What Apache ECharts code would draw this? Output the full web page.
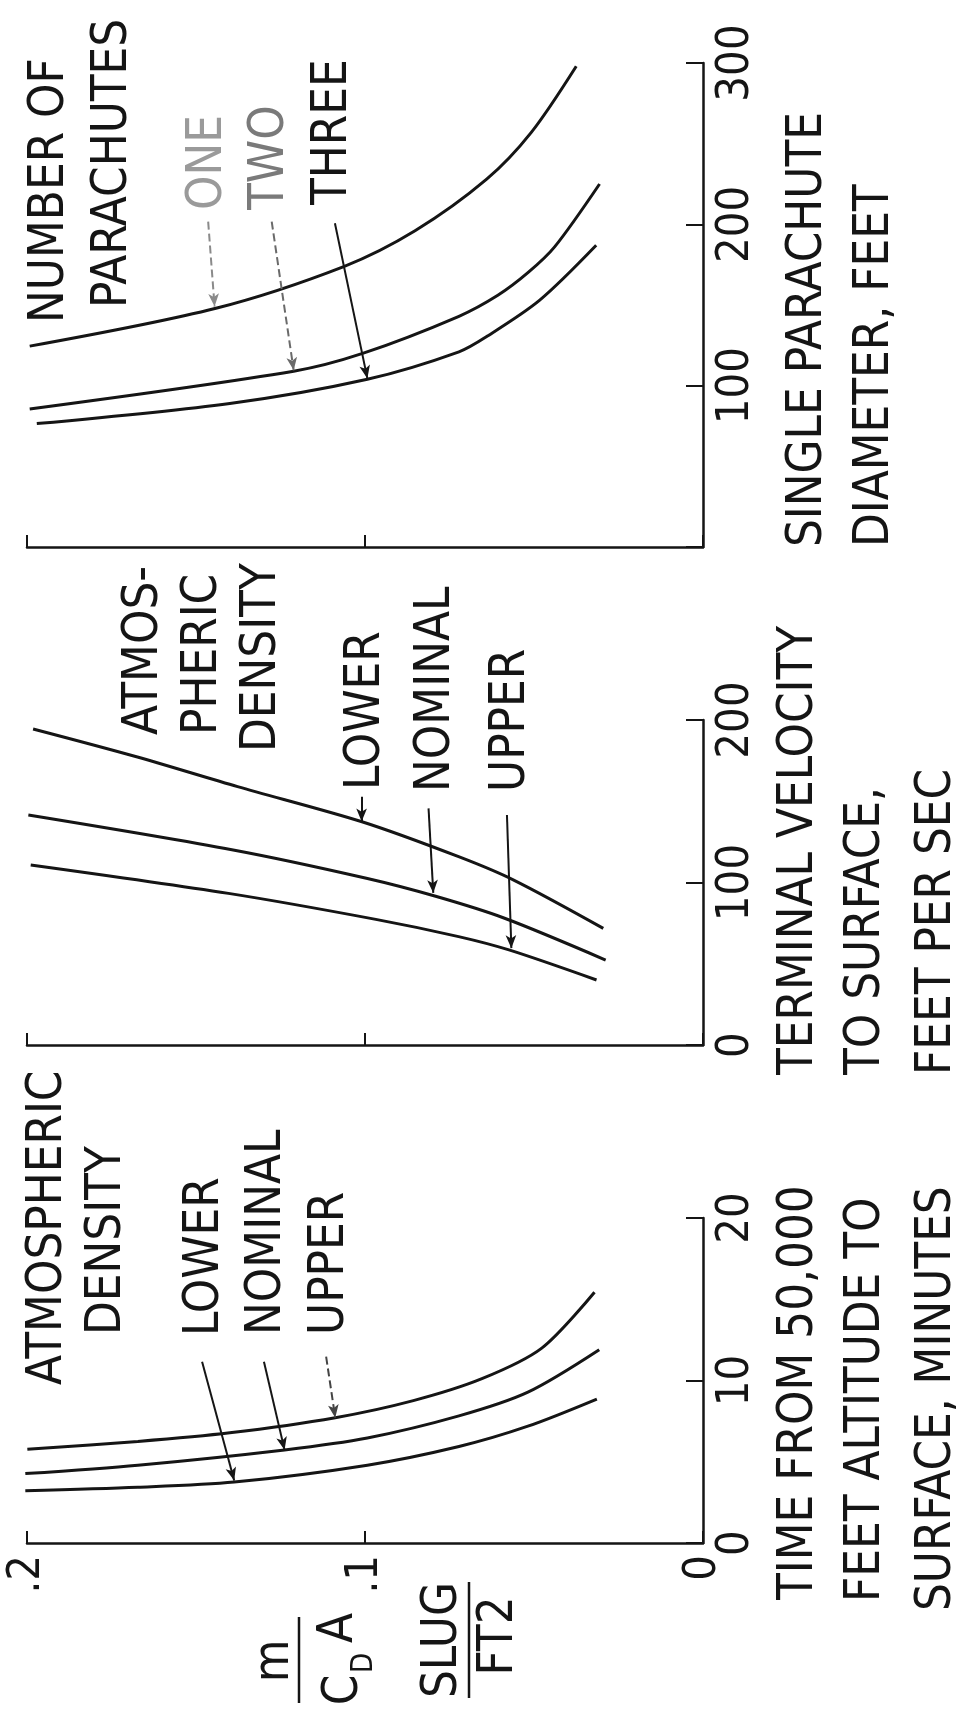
<!DOCTYPE html>
<html><head><meta charset="utf-8">
<script src="https://cdn.jsdelivr.net/npm/echarts@6/dist/echarts.min.js"></script>
<style>html,body{margin:0;padding:0;background:#fff}#c{width:975px;height:1727px}</style>
</head><body><div id="c"></div>
<script>
// ---- data (x = m/(CD A), slug/ft^2) ----
const mTicks = ['0', '.1', '.2'];
const timeTicks = ['0', '10', '20'];
const velTicks = ['0', '100', '200'];
const diaTicks = ['', '100', '200', '300'];

// Panel 1: time from 50,000 ft to surface, minutes
const timeLower   = [[0.2005,3.22],[0.1672,3.43],[0.1387,3.75],[0.0993,4.79],[0.0722,5.94],[0.0518,7.19],[0.0314,8.86]];
const timeNominal = [[0.2005,4.27],[0.1672,4.79],[0.1238,5.73],[0.0993,6.46],[0.0722,7.82],[0.0518,9.28],[0.0307,11.89]];
const timeUpper   = [[0.1999,5.77],[0.1672,6.25],[0.1400,6.78],[0.1088,7.71],[0.0857,8.76],[0.0654,10.11],[0.0477,11.99],[0.0321,15.43]];

// Panel 2: terminal velocity to surface, ft/s
const velLower   = [[0.1982,194.5],[0.1676,177.4],[0.1377,159],[0.1009,137.4],[0.0723,115.9],[0.0560,101.5],[0.0295,71.8]];
const velNominal = [[0.1996,141.5],[0.1390,120],[0.0996,102.6],[0.0791,91.5],[0.0587,78],[0.0288,52.3]];
const velUpper   = [[0.1989,110.8],[0.1404,93.3],[0.0968,77.3],[0.0723,66.7],[0.0574,58.5],[0.0315,40]];

// Panel 3: single parachute diameter, ft
const diaOne   = [[0.1992,124.5],[0.1441,148],[0.1061,174],[0.0852,196],[0.0640,228],[0.0508,257],[0.0375,298]];
const diaTwo   = [[0.1992,85.6],[0.1211,109],[0.1007,120],[0.0722,143],[0.0607,156],[0.0518,170],[0.0439,186],[0.0306,225]];
const diaThree = [[0.1971,76.5],[0.1400,89],[0.0993,104],[0.0722,121],[0.0636,131],[0.0483,153],[0.0316,187]];

// annotation arrows (data coords: from -> to)
const timeArrows = [[[0.1482,11.16],[0.1387,3.85]],[[0.1299,11.16],[0.1238,5.73]],[[0.1115,11.47],[0.1088,7.71]]];
const velArrows  = [[[0.1010,152.8],[0.1010,137.6]],[[0.0812,145.6],[0.0798,93.6]],[[0.0580,141.5],[0.0567,59.6]]];
const diaArrows  = [[[0.1464,201.7],[0.1445,149]],[[0.1276,201.7],[0.1211,109.5]],[[0.1089,200.7],[0.0993,104.5]]];

// ---- font ----
function hasFont(name){
  const c = document.createElement('canvas').getContext('2d');
  const t = 'SINGLE PARACHUTE 0123';
  c.font = '52px monospace'; const w1 = c.measureText(t).width;
  c.font = '52px "' + name + '", monospace'; const w2 = c.measureText(t).width;
  return Math.abs(w1 - w2) > 1;
}
let FONT = '"Liberation Sans Narrow"';
if (!hasFont('Liberation Sans Narrow')) FONT = hasFont('DejaVu Sans Condensed') ? '"DejaVu Sans Condensed"' : '"Liberation Sans"';
const ctx = document.createElement('canvas').getContext('2d');
const TFS = 49;                       // text size (cap height ~36px)
ctx.font = TFS + 'px ' + FONT;
const KX = Math.min(1, 435 / ctx.measureText('SINGLE PARACHUTE').width);  // horizontal compression
ctx.font = '100px ' + FONT;
const FS = Math.round(Math.min(50, 100 * 78 / ctx.measureText('300').width));  // axis label size

const INK = '#151515';
const grids = [
  {left: 27, width: 676, top: 63, height: 484},
  {left: 27, width: 676, top: 720, height: 325},
  {left: 27, width: 676, top: 1218, height: 325}
];

function xAx(i, showLabel){
  return {type:'value', gridIndex:i, min:0, max:0.2, interval:0.1, inverse:true,
    axisLine:{show:true, lineStyle:{color:INK, width:2.5}},
    axisTick:{show:true, inside:true, length:12, lineStyle:{color:INK, width:2}},
    splitLine:{show:false},
    axisLabel:{show:showLabel, rotate:90, margin:12, color:INK, fontFamily:FONT, fontSize:FS,
      formatter: v => mTicks[Math.round(v / 0.1)]}};
}
function yAx(i, max, interval, labels){
  return {type:'value', gridIndex:i, position:'right', min:0, max:max, interval:interval,
    axisLine:{show:true, onZero:false, lineStyle:{color:INK, width:2.5}},
    axisTick:{show:true, inside:true, length:17, lineStyle:{color:INK, width:2}},
    splitLine:{show:false},
    axisLabel:{show:true, rotate:90, margin:11, color:INK, fontFamily:FONT, fontSize:FS,
      formatter: v => labels[Math.round(v / interval)]}};
}
function curve(i, data, arrow, arrowColor, arrowType){
  const s = {type:'line', xAxisIndex:i, yAxisIndex:i, data:data, smooth:0.3, showSymbol:false,
    lineStyle:{color:INK, width:3}, silent:true, animation:false};
  if (arrow) s.markLine = {silent:true, animation:false, symbol:['none','arrow'], symbolSize:[8,13],
    label:{show:false}, emphasis:{disabled:true},
    lineStyle:{color:arrowColor || INK, width:2, type:arrowType || 'solid'},
    data:[[{coord:arrow[0]},{coord:arrow[1]}]]};
  return s;
}
function vtext(x, y, text, opts){
  opts = opts || {};
  return {type:'text', x:x, y:y, rotation:Math.PI/2, scaleX:KX, scaleY:1, silent:true,
    style:{text:text, font:(opts.fs || TFS) + 'px ' + FONT, fill:opts.fill || INK,
      align:opts.align || 'left', verticalAlign:'middle', textAlign:opts.align || 'left', textVerticalAlign:'middle'}};
}
function vline(x, y1, y2){
  return {type:'line', silent:true, shape:{x1:x, y1:y1, x2:x, y2:y2}, style:{stroke:INK, lineWidth:2.5}};
}

const chart = echarts.init(document.getElementById('c'), null, {renderer:'canvas'});
chart.setOption({
  backgroundColor:'#fff',
  animation:false,
  grid: grids,
  xAxis:[xAx(0,false), xAx(1,false), xAx(2,true)],
  yAxis:[yAx(0,300,100,diaTicks), yAx(1,200,100,velTicks), yAx(2,20,10,timeTicks)],
  series:[
    curve(0, diaOne, diaArrows[0], '#8a8a8a', 'dashed'),
    curve(0, diaTwo, diaArrows[1], '#6a6a6a', 'dashed'),
    curve(0, diaThree, diaArrows[2]),
    curve(1, velLower, velArrows[0]),
    curve(1, velNominal, velArrows[1]),
    curve(1, velUpper, velArrows[2]),
    curve(2, timeLower, timeArrows[0]),
    curve(2, timeNominal, timeArrows[1]),
    curve(2, timeUpper, timeArrows[2], '#444', 'dashed')
  ],
  graphic:{elements:[
    // panel 3
    vtext(50, 323, 'NUMBER OF'),
    vtext(113, 308, 'PARACHUTES'),
    vtext(208, 210, 'ONE', {fill:'#9a9a9a'}),
    vtext(270, 210, 'TWO', {fill:'#7a7a7a'}),
    vtext(333, 205, 'THREE'),
    vtext(808, 547, 'SINGLE PARACHUTE'),
    vtext(875, 547, 'DIAMETER, FEET'),
    // panel 2
    vtext(144, 735, 'ATMOS-'),
    vtext(203, 735, 'PHERIC'),
    vtext(262, 752, 'DENSITY'),
    vtext(366, 790, 'LOWER'),
    vtext(436, 792, 'NOMINAL'),
    vtext(511, 792, 'UPPER'),
    vtext(799, 1075, 'TERMINAL VELOCITY'),
    vtext(866, 1075, 'TO SURFACE,'),
    vtext(937, 1075, 'FEET PER SEC'),
    // panel 1
    vtext(48, 1385, 'ATMOSPHERIC'),
    vtext(107, 1335, 'DENSITY'),
    vtext(205, 1336, 'LOWER'),
    vtext(267, 1335, 'NOMINAL'),
    vtext(330, 1335, 'UPPER'),
    vtext(799, 1600, 'TIME FROM 50,000'),
    vtext(866, 1602, 'FEET ALTITUDE TO'),
    vtext(937, 1611, 'SURFACE, MINUTES'),
    // y-axis title  m / (C_D A)   SLUG / FT2
    vtext(275, 1661, 'm', {align:'center'}),
    vline(299, 1617, 1703),
    vtext(344, 1690, 'C', {align:'center'}),
    vtext(364, 1663, 'D', {align:'center', fs:30}),
    vtext(339, 1628, 'A', {align:'center'}),
    vtext(443, 1640, 'SLUG', {align:'center'}),
    vline(469, 1582, 1698),
    vtext(499, 1636, 'FT2', {align:'center'})
  ]}
});
</script></body></html>
